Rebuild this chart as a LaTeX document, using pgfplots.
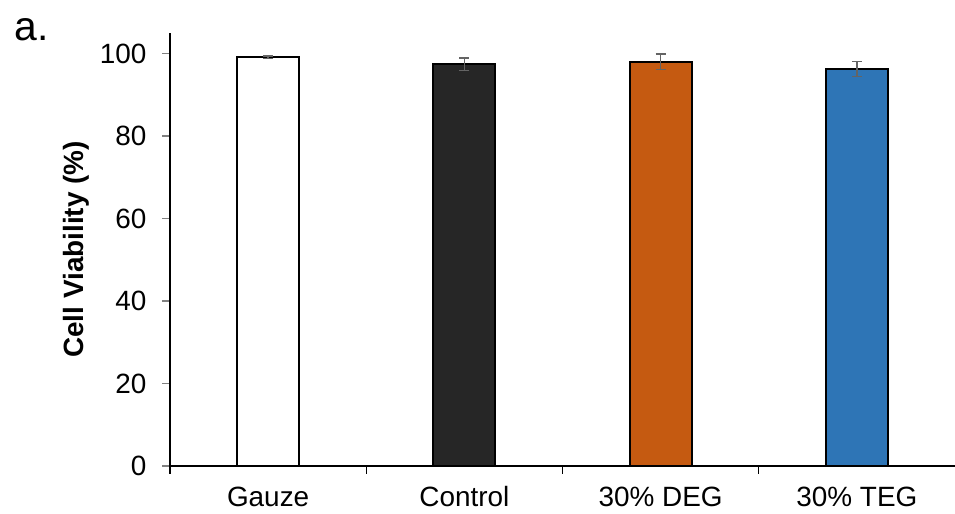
\documentclass[border=0pt]{standalone}
\usepackage{pgfplots}
\pgfplotsset{compat=1.18}
\usepackage{fontspec}
\setmainfont{Liberation Sans}
\definecolor{ctrl}{RGB}{38,38,38}
\definecolor{deg}{RGB}{197,90,17}
\definecolor{teg}{RGB}{46,117,182}
\definecolor{errc}{RGB}{100,100,100}
\begin{document}
\begin{tikzpicture}[x=1bp,y=1bp]
\useasboundingbox (0,0) rectangle (955,514);
\node[anchor=west,font=\fontsize{41}{41}\selectfont] at (11,484) {a.};
\begin{axis}[
  at={(170bp,48bp)}, anchor=south west,
  scale only axis, width=785bp, height=433bp,
  xmin=-0.5, xmax=3.5, ymin=0, ymax=105,
  axis x line*=bottom, axis y line*=left,
  axis line style={line width=1.2bp},
  ytick={0,20,...,100},
  xtick={0,1,2,3},
  xticklabels={Gauze,Control,30\% DEG,30\% TEG},
  extra x ticks={-0.5,0.5,1.5,2.5},
  extra x tick labels={},
  extra x tick style={xtick style={draw=black,line width=1.2bp}, major tick length=8bp, tick align=outside},
  xtick style={draw=none},
  ytick style={line width=1.2bp},
  major tick length=8bp, tick align=outside,
  tick label style={font=\fontsize{28}{28}\selectfont},
  /pgf/number format/assume math mode=true,
  yticklabel style={xshift=-12bp},
  xticklabel style={anchor=base, yshift=-33bp},
  ylabel={\bfseries Cell Viability (\%)},
  ylabel style={font=\fontsize{28}{28}\selectfont, at={(axis description cs:-0.119,0.5)}, anchor=center},
  ybar, bar width=62bp, bar shift=0pt,
  clip=false,
  every axis plot/.append style={draw=black, line width=2.2bp,
    error bars/y dir=both, error bars/y explicit,
    error bars/error bar style={draw=errc, line width=1.3bp},
    error bars/error mark options={draw=errc, line width=1.3bp, mark size=5bp, rotate=90}},
]
\addplot[fill=white] coordinates {(0,99.1) +- (0,0.3)};
\addplot[fill=ctrl] coordinates {(1,97.4) +- (0,1.5)};
\addplot[fill=deg] coordinates {(2,98.0) +- (0,1.9)};
\addplot[fill=teg] coordinates {(3,96.3) +- (0,1.8)};
\end{axis}
\end{tikzpicture}
\end{document}
